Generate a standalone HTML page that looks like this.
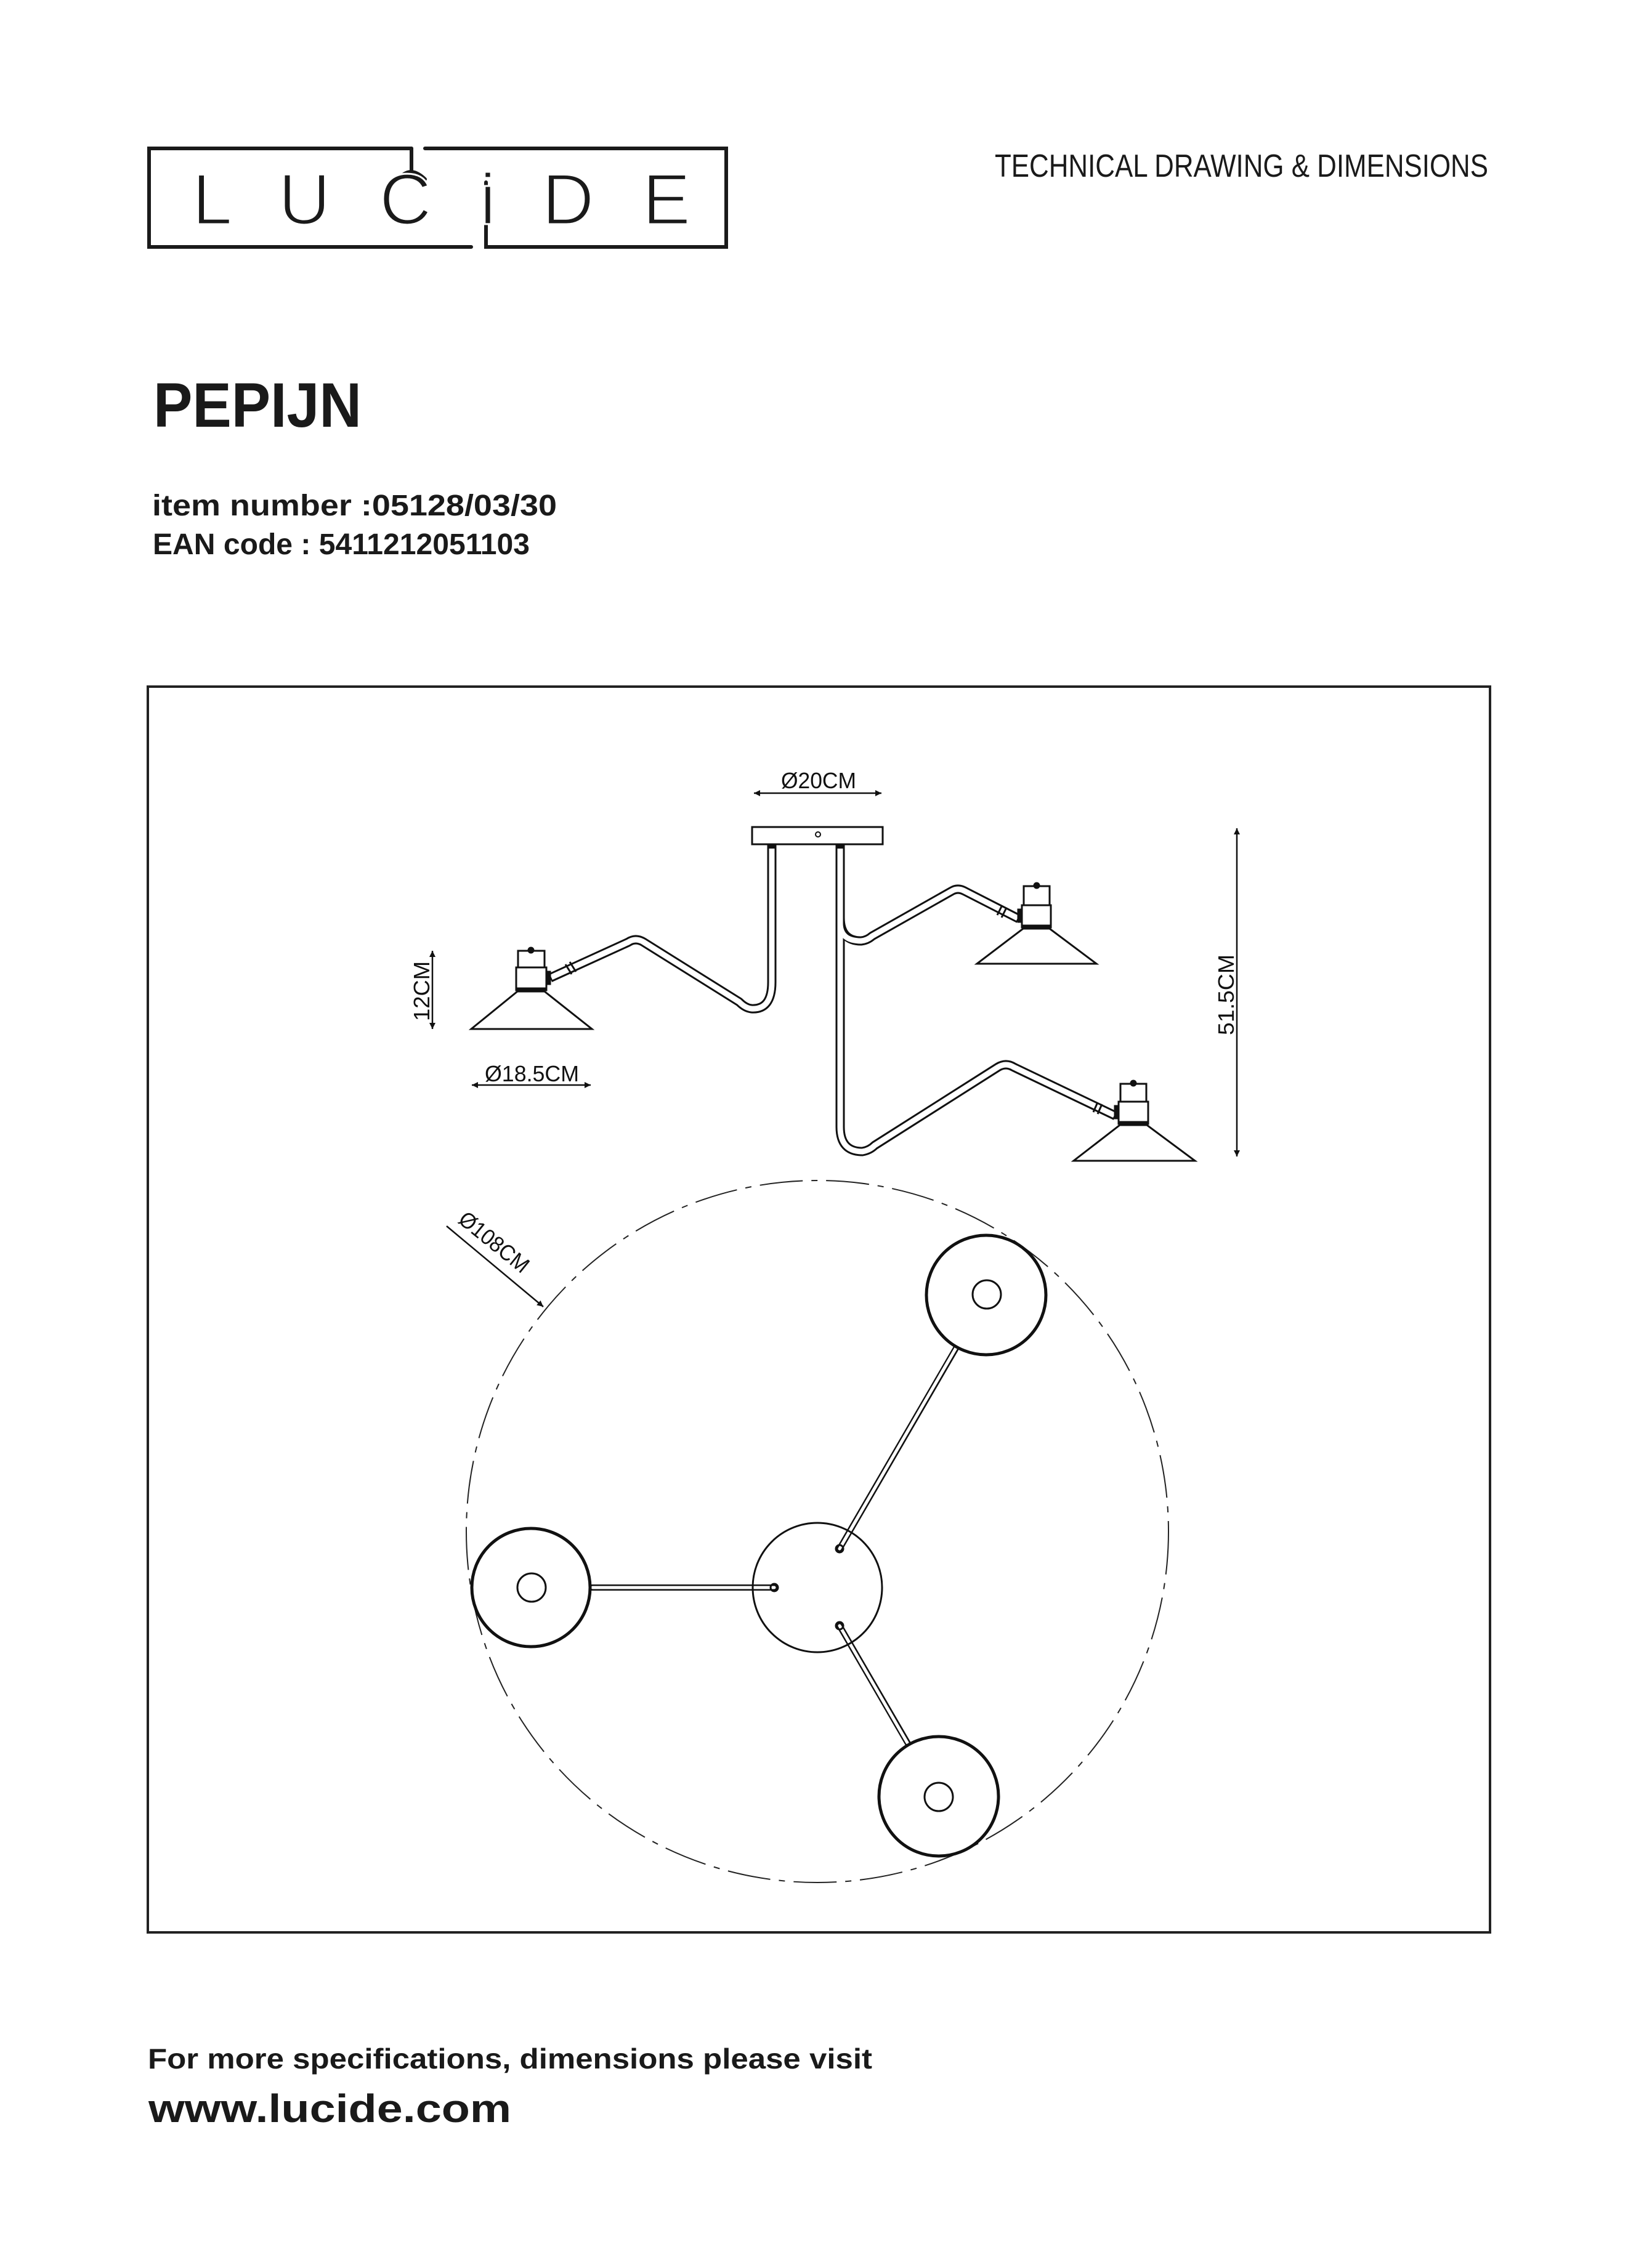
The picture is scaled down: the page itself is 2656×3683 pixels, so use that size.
<!DOCTYPE html>
<html><head><meta charset="utf-8"><style>
html,body{margin:0;padding:0;background:#fff;}
svg{display:block;}
</style></head><body>
<svg xmlns="http://www.w3.org/2000/svg" width="2656" height="3683" viewBox="0 0 2656 3683">
<defs>
<marker id="ar" viewBox="0 0 10 10" refX="10" refY="5" markerWidth="26" markerHeight="10" markerUnits="userSpaceOnUse" orient="auto-start-reverse"><path d="M0,0 L10,5 L0,10 z" fill="#111"/></marker>
</defs>
<rect width="2656" height="3683" fill="#fff"/>

<!-- LOGO -->
<g fill="none" stroke="#1a1a1a" stroke-width="6" stroke-linecap="round">
<path d="M668,241 H242 V401 H765"/>
<path d="M690,241 H1179 V401 H789 V296"/>
<path d="M668,241 V276"/>
<path d="M690,291 Q668,270 652,286"/>
</g>
<g font-family="Liberation Sans, sans-serif" font-size="117" fill="#1a1a1a" stroke="#fff" stroke-width="3">
<text x="312" y="364">L</text>
<text x="452" y="364">U</text>
<text x="616" y="364">C</text>
<text x="779" y="364">i</text>
<text x="880" y="364">D</text>
<text x="1043" y="364">E</text>
</g>

<text x="1615" y="287" font-family="Liberation Sans, sans-serif" font-size="52" fill="#1a1a1a" textLength="801" lengthAdjust="spacingAndGlyphs">TECHNICAL DRAWING &amp; DIMENSIONS</text>

<text x="249" y="693" font-family="Liberation Sans, sans-serif" font-weight="bold" font-size="102" fill="#1a1a1a" textLength="338" lengthAdjust="spacingAndGlyphs">PEPIJN</text>
<text x="247" y="837" font-family="Liberation Sans, sans-serif" font-weight="bold" font-size="48" fill="#1a1a1a" textLength="657" lengthAdjust="spacingAndGlyphs">item number :05128/03/30</text>
<text x="248" y="900" font-family="Liberation Sans, sans-serif" font-weight="bold" font-size="48" fill="#1a1a1a" textLength="612" lengthAdjust="spacingAndGlyphs">EAN code : 5411212051103</text>

<!-- FRAME -->
<rect x="240" y="1115" width="2179" height="2023" fill="none" stroke="#222" stroke-width="4"/>

<!-- Dimensions -->
<g font-family="Liberation Sans, sans-serif" font-size="36" fill="#111">
<text x="1268" y="1280" textLength="122" lengthAdjust="spacingAndGlyphs">Ø20CM</text>
<text x="787" y="1756" textLength="153" lengthAdjust="spacingAndGlyphs">Ø18.5CM</text>
<text transform="translate(697,1658) rotate(-90)" textLength="97" lengthAdjust="spacingAndGlyphs">12CM</text>
<text transform="translate(2003,1681) rotate(-90)" textLength="131" lengthAdjust="spacingAndGlyphs">51.5CM</text>
<text transform="translate(742,1984) rotate(39)" textLength="135" lengthAdjust="spacingAndGlyphs">Ø108CM</text>
</g>
<g stroke="#111" stroke-width="2.5" fill="none">
<line x1="1224" y1="1288" x2="1431" y2="1288" marker-start="url(#ar)" marker-end="url(#ar)"/>
<line x1="766" y1="1762" x2="959" y2="1762" marker-start="url(#ar)" marker-end="url(#ar)"/>
<line x1="702" y1="1544" x2="702" y2="1671" marker-start="url(#ar)" marker-end="url(#ar)"/>
<line x1="2008" y1="1345" x2="2008" y2="1878" marker-start="url(#ar)" marker-end="url(#ar)"/>
<line x1="725" y1="1991" x2="882" y2="2122" marker-end="url(#ar)"/>
</g>

<!-- Canopy -->
<g stroke="#111" stroke-width="3" fill="#fff">
<rect x="1221" y="1343" width="212" height="28"/>
<circle cx="1328" cy="1355" r="4" stroke-width="2"/>
<rect x="1247" y="1371" width="12" height="5" fill="#111"/>
<rect x="1358" y="1371" width="12" height="5" fill="#111"/>
</g>

<!-- Tubes -->
<g fill="none" stroke-linejoin="round">
<g stroke="#111" stroke-width="15">
<path d="M1253,1376 L1253,1595 Q1253,1640 1220,1638 Q1210,1637 1200,1627 L1045,1530 Q1032,1522 1020,1530 L893,1588"/>
<path d="M1364,1376 L1364,1830 Q1364,1870 1400,1870 Q1412,1868 1420,1860 L1620,1733 Q1633,1725 1646,1733 L1811,1812"/>
<path d="M1364,1490 Q1364,1528 1398,1528 Q1408,1527 1416,1520 L1545,1447 Q1555,1441 1566,1447 L1654,1492"/>
</g>
<g stroke="#fff" stroke-width="9">
<path d="M1253,1378 L1253,1595 Q1253,1640 1220,1638 Q1210,1637 1200,1627 L1045,1530 Q1032,1522 1020,1530 L895,1587"/>
<path d="M1364,1378 L1364,1830 Q1364,1870 1400,1870 Q1412,1868 1420,1860 L1620,1733 Q1633,1725 1646,1733 L1809,1811"/>
<path d="M1364,1499 Q1364,1528 1398,1528 Q1408,1527 1416,1520 L1545,1447 Q1555,1441 1566,1447 L1652,1491"/>
</g>
</g>
<!-- collars -->
<g stroke="#111" stroke-width="3">
<line x1="918" y1="1566" x2="928" y2="1582"/><line x1="925" y1="1562" x2="935" y2="1578"/>
<line x1="1627" y1="1470" x2="1619" y2="1486"/><line x1="1634" y1="1474" x2="1626" y2="1490"/>
<line x1="1782" y1="1790" x2="1775" y2="1806"/><line x1="1789" y1="1793" x2="1782" y2="1809"/>
</g>

<!-- Lamps -->
<g stroke="#111" stroke-width="3" fill="#fff">
<rect x="841" y="1544" width="43" height="27"/>
<rect x="838" y="1571" width="49" height="37"/>
<line x1="838" y1="1606" x2="887" y2="1606" stroke-width="5"/>
<path d="M840,1610 L884,1610 L961,1671 L765,1671 Z"/>
<rect x="887" y="1578" width="6" height="20" fill="#111"/>
<circle cx="862" cy="1543" r="4" fill="#111"/>
<rect x="1662" y="1439" width="42" height="31"/>
<rect x="1659" y="1470" width="47" height="36"/>
<line x1="1659" y1="1504" x2="1706" y2="1504" stroke-width="5"/>
<path d="M1661,1508 L1704,1508 L1780,1565 L1586,1565 Z"/>
<rect x="1653" y="1477" width="6" height="20" fill="#111"/>
<circle cx="1683" cy="1438" r="4" fill="#111"/>
<rect x="1819" y="1760" width="42" height="29"/>
<rect x="1816" y="1789" width="48" height="36"/>
<line x1="1816" y1="1823" x2="1864" y2="1823" stroke-width="5"/>
<path d="M1818,1827 L1862,1827 L1940,1885 L1743,1885 Z"/>
<rect x="1810" y="1796" width="6" height="20" fill="#111"/>
<circle cx="1840" cy="1759" r="4" fill="#111"/>
</g>

<!-- Top view -->
<circle cx="1327" cy="2487" r="570" fill="none" stroke="#222" stroke-width="2" stroke-dasharray="70 14 10 14"/>
<g fill="none" stroke="#111" stroke-linecap="round">
<g stroke-width="10">
<line x1="959" y1="2578" x2="1257" y2="2578"/>
<line x1="1363" y1="2515" x2="1554" y2="2186"/>
<line x1="1363" y1="2640" x2="1475" y2="2833"/>
</g>
<g stroke="#fff" stroke-width="5">
<line x1="962" y1="2578" x2="1257" y2="2578"/>
<line x1="1363" y1="2515" x2="1552" y2="2189"/>
<line x1="1363" y1="2640" x2="1473" y2="2830"/>
</g>
<circle cx="1327" cy="2578" r="105" stroke-width="3"/>
<circle cx="1257" cy="2578" r="6" stroke-width="3"/>
<circle cx="1363" cy="2515" r="6" stroke-width="3"/>
<circle cx="1363" cy="2640" r="6" stroke-width="3"/>
<circle cx="862" cy="2578" r="96" stroke-width="5" fill="#fff"/>
<circle cx="863" cy="2578" r="23" stroke-width="3"/>
<circle cx="1601" cy="2103" r="97" stroke-width="5" fill="#fff"/>
<circle cx="1602" cy="2102" r="23" stroke-width="3"/>
<circle cx="1524" cy="2917" r="97" stroke-width="5" fill="#fff"/>
<circle cx="1524" cy="2918" r="23" stroke-width="3"/>
</g>

<!-- Footer -->
<text x="240" y="3359" font-family="Liberation Sans, sans-serif" font-weight="bold" font-size="46" fill="#1a1a1a" textLength="1176" lengthAdjust="spacingAndGlyphs">For more specifications, dimensions please visit</text>
<text x="241" y="3446" font-family="Liberation Sans, sans-serif" font-weight="bold" font-size="64" fill="#1a1a1a" textLength="589" lengthAdjust="spacingAndGlyphs">www.lucide.com</text>
</svg>
</body></html>
